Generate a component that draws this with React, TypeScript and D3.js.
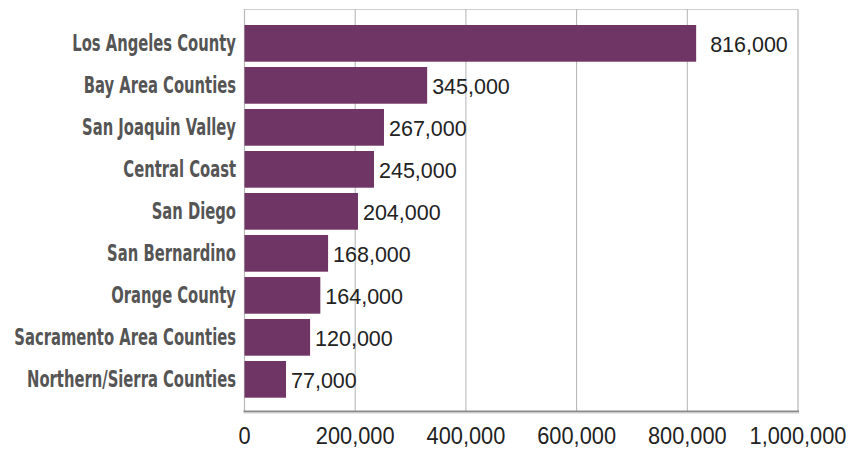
import React from "react";
import * as d3 from "d3";

const categories = [
  "Los Angeles County",
  "Bay Area Counties",
  "San Joaquin Valley",
  "Central Coast",
  "San Diego",
  "San Bernardino",
  "Orange County",
  "Sacramento Area Counties",
  "Northern/Sierra Counties",
];
const barValues = [816000, 330000, 252000, 234000, 205000, 151000, 137000, 118500, 75000];
const labelTexts = ["816,000", "345,000", "267,000", "245,000", "204,000", "168,000", "164,000", "120,000", "77,000"];
const xTicks = [0, 200000, 400000, 600000, 800000, 1000000];

const W = 863;
const H = 449;
const left = 244.5;
const right = 798;
const top = 9;
const bottom = 411;

export default function App() {
  const x = d3.scaleLinear().domain([0, 1000000]).range([left, right]);
  const y = d3
    .scaleBand<string>()
    .domain(categories)
    .range([top, bottom])
    .paddingInner(0.126)
    .paddingOuter(0.349)
    .align(0.546);
  const fmt = d3.format(",");
  const bw = y.bandwidth();
  return (
    <svg
      width={W}
      height={H}
      style={{ position: "absolute", left: 0, top: 0, background: "#fff" }}
    >
      {/* frame */}
      <line x1={left} x2={right} y1={top + 0.5} y2={top + 0.5} stroke="#cfcfcf" strokeWidth={1.2} />
      <line x1={right} x2={right} y1={top} y2={bottom} stroke="#c8c8c8" strokeWidth={1.6} />
      {/* gridlines */}
      {xTicks.slice(1, -1).map((t) => (
        <line key={t} x1={x(t)} x2={x(t)} y1={top} y2={bottom} stroke="#b3b3b3" strokeWidth={1} />
      ))}
      <line x1={left} x2={left} y1={top} y2={bottom} stroke="#b8b8b8" strokeWidth={1.2} />
      {/* bars */}
      {categories.map((c, i) => (
        <rect key={c} x={x(0)} y={y(c)} width={x(barValues[i]) - x(0)} height={bw} fill="#6f3565" />
      ))}
      {/* bottom axis */}
      <line x1={left - 1} x2={right + 1} y1={bottom + 0.5} y2={bottom + 0.5} stroke="#8a8a8a" strokeWidth={2} />
      <line x1={left - 1} x2={right + 1} y1={bottom + 2} y2={bottom + 2} stroke="#d0d0d0" strokeWidth={1} />
      {/* value labels */}
      {categories.map((c, i) => (
        <text
          key={c}
          transform={`translate(${x(barValues[i]) + (i === 0 ? 14 : 5)},${(y(c) ?? 0) + bw / 2 + 8.5}) scale(0.96,1)`}
          fontFamily="'Liberation Sans', Arial, sans-serif"
          fontSize={22.4}
          fill="#222"
        >
          {labelTexts[i]}
        </text>
      ))}
      {/* category labels */}
      {categories.map((c) => (
        <text
          key={c}
          transform={`translate(236,${(y(c) ?? 0) + bw / 2 + 8}) scale(0.73,1)`}
          textAnchor="end"
          fontFamily="'DejaVu Sans Condensed', 'DejaVu Sans', sans-serif"
          fontWeight="bold"
          fontSize={22.5}
          fill="#555"
        >
          {c}
        </text>
      ))}
      {/* tick labels */}
      {xTicks.map((t) => (
        <text
          key={t}
          transform={`translate(${x(t)},444) scale(0.92,1)`}
          textAnchor="middle"
          fontFamily="'Liberation Sans', Arial, sans-serif"
          fontSize={23.7}
          fill="#222"
        >
          {fmt(t)}
        </text>
      ))}
    </svg>
  );
}
